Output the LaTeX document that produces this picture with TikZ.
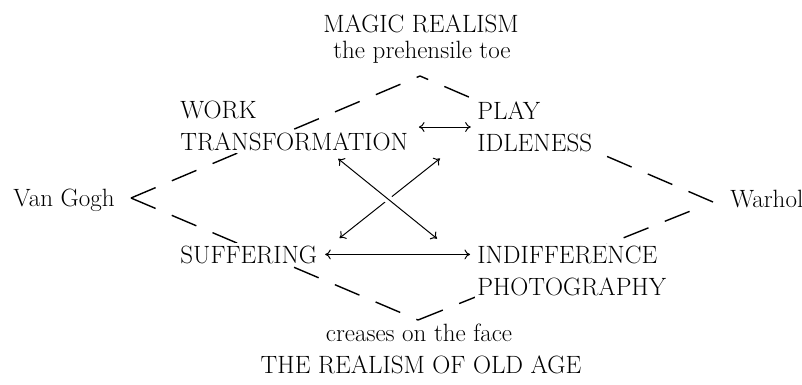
\documentclass[tikz,border=0pt]{standalone}
\usetikzlibrary{arrows.meta,calc,backgrounds}

\begin{document}
\begin{tikzpicture}[
  x=0.025cm, y=-0.025cm,
  every node/.style={font=\fontsize{17.8}{22.8}\selectfont, inner sep=1.5pt},
  term/.style={fill=white, anchor=base west},
  pole/.style={anchor=base},
  block/.style={fill=white, align=left, anchor=west},
  arr/.style={<->, >={To[length=4pt,width=7pt]}, line width=0.7pt},
  trail/.style={line width=1pt, dash pattern=on 19pt off 12.5pt}
]
  \useasboundingbox (0,0) rectangle (802,384);

  % the two poles and the four corners
  \node[pole] (magic) at (421,32) {MAGIC REALISM};
  \node[pole] (toe) at (422,58) {the prehensile toe};
  \node[term] (work) at (178,118) {WORK};
  \node[term] (trans) at (178,150) {TRANSFORMATION};
  \node[block] (pi) at (475,127) {PLAY\\IDLENESS};
  \node[term] (vg) at (11,206) {Van Gogh};
  \node[term] (wh) at (728,207) {Warhol};
  \node[term] (suff) at (178,263) {SUFFERING};
  \node[block] (ip) at (475,271) {INDIFFERENCE\\PHOTOGRAPHY};
  \node[pole] (crease) at (419,341) {creases on the face};
  \node[pole] (old) at (421,373) {THE REALISM OF OLD AGE};

  % dashed diamond behind the words
  \coordinate (lt) at (131,198);
  \coordinate (tt) at (420,76);
  \coordinate (rt) at (713,202);
  \coordinate (bt) at (418,320);
  \begin{scope}[on background layer]
    \draw[trail] (lt) -- (tt) (lt) -- (bt) (rt) -- (tt)
      (bt) -- ($(bt)!0.97!(rt)$);
  \end{scope}

  % arrows
  \draw[arr, shorten <=6pt, shorten >=3pt] (trans.north east |- pi.west) -- (pi.west);
  \draw[arr] ($(pi.south west)+(-35,4)$) -- ($(suff.north east)+(20,-5)$);
  \draw[arr, preaction={draw=white, line width=6pt, -}]
    ($(trans.south)+(44,6)$) -- ($(ip.north west)+(-38,-5)$);
  \draw[arr, shorten <=4pt, shorten >=3.5pt] (suff.east) -- (suff.east -| ip.west);
\end{tikzpicture}
\end{document}
